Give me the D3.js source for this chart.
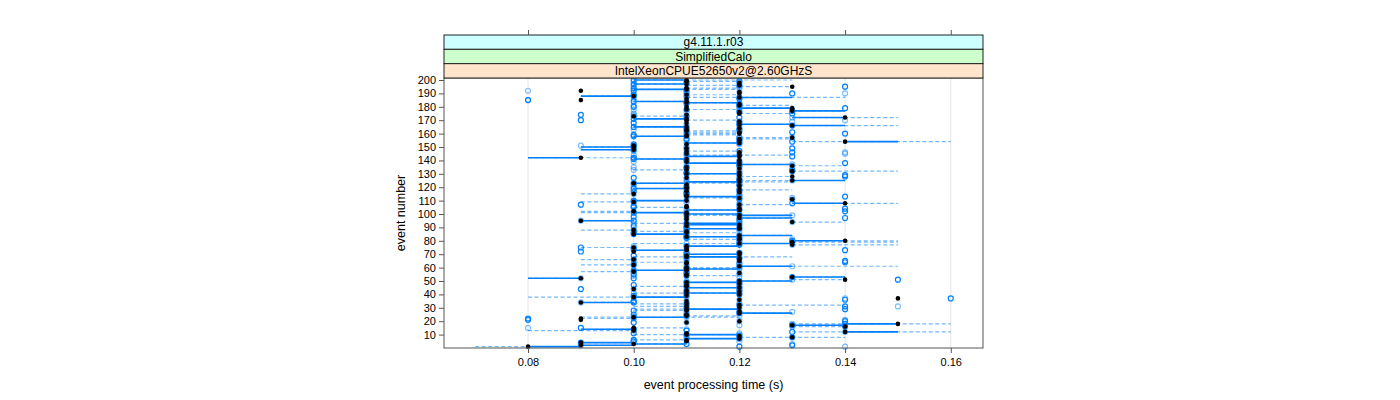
<!DOCTYPE html>
<html><head><meta charset="utf-8">
<script src="https://cdn.jsdelivr.net/npm/d3@7"></script>
<style>body{margin:0;background:#fff}svg{display:block}text{font-family:"Liberation Sans",Arial,Helvetica,sans-serif}</style>
</head><body><svg id="c" width="1400" height="400"></svg>
<script>
// ---- data (times in 1/100 s, events 1..200) ----
const stripLabels = ["g4.11.1.r03", "SimplifiedCalo", "IntelXeonCPUE52650v2@2.60GHzS"];
const xTickValues = [0.08, 0.10, 0.12, 0.14, 0.16];
const yTickValues = [10,20,30,40,50,60,70,80,90,100,110,120,130,140,150,160,170,180,190,200];
const medianCs = [
 8,9,10,9,11,11,12,13,12,11, 11,14,10,10,10,14,13,15,11,12, 9,9,10,11,11,12,12,11,11,12, 11,12,11,9,11,12,15,10,11,12,
 11,12,11,10,12,11,11,12,11,12, 14,9,13,11,11,12,10,11,11,11, 12,10,11,11,12,10,12,11,11,12, 12,10,11,11,10,11,13,12,13,14,
 12,12,11,12,10,11,11,10,12,12, 11,12,11,13,9,11,12,11,12,11, 11,10,12,12,11,11,12,14,10,11, 13,12,11,11,10,12,11,12,11,11,
 12,11,10,12,13,12,11,13,12,11, 12,13,11,12,11,13,12,12,11,12, 11,9,12,12,11,12,11,10,11,10, 10,11,12,14,12,12,13,11,11,12,
 12,11,11,12,11,13,12,11,12,11, 11,14,10,11,12,12,13,11,13,11, 12,12,11,11,9,11,12,10,11,12, 12,9,11,11,13,12,11,12,11,11];
const solidToCs = [
 9,10,11,10,11,11,11,13,12,12, 11,15,10,9,10,14,14,14,11,12, 9,9,11,11,11,13,12,11,12,12, 11,12,11,10,11,12,15,11,11,12,
 12,12,11,10,11,11,11,12,12,13, 14,8,14,11,11,12,10,10,12,11, 13,10,11,11,12,10,12,12,11,11, 12,10,10,11,10,12,13,13,13,13,
 12,12,12,13,11,11,11,10,11,12, 11,11,12,13,10,11,13,11,13,12, 10,10,11,12,11,11,12,13,10,10, 13,12,12,11,10,12,11,12,10,11,
 12,11,11,11,14,12,11,13,12,12, 12,13,11,12,11,13,13,11,11,12, 10,8,11,12,11,12,11,9,11,9, 10,11,11,15,12,12,13,10,11,12,
 12,11,11,12,10,14,13,11,12,11, 10,13,10,11,12,12,14,11,12,11, 12,12,12,10,9,11,13,9,11,12, 12,9,10,11,13,12,10,12,11,10];
const dashLoCs = [
 7,9,10,9,11,10,11,12,12,10, 11,13,8,9,10,13,13,13,11,12, 9,9,9,11,11,12,12,10,10,12, 10,12,10,9,11,12,15,8,11,12,
 10,12,11,10,11,10,11,12,11,12, 13,8,13,11,11,12,9,10,11,11, 12,9,11,10,12,9,12,10,11,11, 12,10,10,11,9,11,13,10,13,13,
 11,12,11,12,10,11,10,9,11,12, 11,11,10,13,9,11,12,11,11,11, 9,9,11,12,10,11,12,13,9,10, 13,11,11,11,9,12,11,12,10,11,
 12,11,10,11,12,12,11,12,12,11, 12,13,10,12,11,13,12,11,11,12, 10,8,11,11,11,12,11,9,11,9, 10,11,11,13,12,12,12,10,11,11,
 11,11,11,12,10,13,12,11,12,11, 10,13,10,11,12,12,13,11,12,11, 12,12,11,10,9,11,11,9,11,12, 12,9,10,11,12,11,10,12,11,10];
const dashHiCs = [
 9,10,11,10,11,11,12,14,12,12, 11,16,10,10,11,14,14,16,11,12, 9,10,12,12,11,13,12,11,12,12, 11,14,11,10,11,12,15,11,11,12,
 12,12,11,10,12,11,11,12,12,13, 14,9,14,12,11,12,10,11,12,12, 15,10,11,11,12,10,12,13,11,12, 12,10,11,11,10,12,15,13,15,15,
 12,12,12,13,11,12,11,10,12,12, 11,12,12,14,10,11,13,11,13,12, 11,10,12,12,11,11,13,15,10,11, 13,12,12,11,10,12,11,13,11,11,
 12,11,12,13,14,12,11,13,12,12, 12,15,11,12,11,14,13,12,11,12, 11,10,12,13,11,12,12,10,11,10, 10,11,12,16,12,13,13,11,12,12,
 12,12,11,12,11,15,13,11,12,12, 11,15,11,11,13,12,14,12,13,11, 13,12,12,11,9,11,14,10,12,12, 12,9,12,12,13,12,11,12,12,13];
const runACs = [
 12,13,11,9,10,10,12,13,12,11, 10,13,11,10,9,14,13,14,10,14, 8,8,10,11,10,12,12,10,14,11, 14,12,11,10,10,14,16,10,10,12,
 11,11,12,9,12,11,10,12,11,12, 15,10,13,11,10,11,10,10,11,11, 12,10,12,14,14,10,12,11,10,11, 12,9,14,10,9,11,12,12,13,13,
 12,11,11,12,10,10,11,10,12,11, 10,12,11,12,10,12,14,10,12,11, 10,14,12,14,10,10,9,13,10,10, 12,12,14,12,11,11,10,12,10,11,
 12,12,10,12,12,12,10,14,14,11, 11,13,13,11,11,12,12,14,12,11, 10,10,13,12,11,13,12,10,13,10, 10,10,12,13,12,11,12,10,10,14,
 13,11,12,11,10,13,12,10,12,9, 10,12,11,9,13,12,13,11,14,10, 12,12,11,10,8,12,12,10,10,13, 11,10,11,10,14,12,10,11,12,10];
const runBCs = [
 14,9,13,10,12,11,11,12,11,12, 12,14,10,11,8,13,12,13,11,12, 14,10,11,12,11,11,13,11,11,12, 15,11,12,9,11,12,14,11,11,11,
 10,12,11,10,11,12,11,11,12,11, 13,9,12,10,12,12,11,11,12,12, 13,11,10,11,12,11,11,12,11,12, 11,11,10,11,10,10,13,11,12,12,
 13,12,12,11,11,11,12,11,11,12, 11,11,10,13,9,11,12,11,13,12, 11,10,11,12,11,12,12,12,11,11, 13,13,11,11,10,12,12,11,11,10,
 11,10,11,11,13,11,11,12,12,12, 12,12,10,12,10,13,13,11,10,12, 11,10,11,10,14,14,10,11,11,11, 9,12,11,12,11,12,13,11,11,11,
 12,12,10,12,11,12,11,12,13,14, 11,13,10,10,10,11,12,10,12,12, 10,11,12,11,8,10,11,11,11,14, 12,8,10,12,12,10,11,12,10,12];
const events = medianCs.map((_, i) => i + 1);

// ---- layout ----
const svg = d3.select("#c");
const L = 444, R = 983, T = 78, B = 348;
const x = d3.scaleLinear().domain([0.0641, 0.1661]).range([L, R]);
const y = d3.scaleLinear().domain([0, 201.5]).range([B, T]);
const cs = v => v / 100;
const blue = "#0080ff";

// grid lines
svg.append("g").selectAll("line").data(xTickValues).join("line")
  .attr("x1", d => x(d)).attr("x2", d => x(d)).attr("y1", T).attr("y2", B)
  .attr("stroke", "#e6e6e6").attr("stroke-width", 1);

const plot = svg.append("g");
// dashed ranges
plot.append("g").selectAll("line").data(events.filter((e, i) => dashLoCs[i] !== dashHiCs[i])).join("line")
  .attr("x1", e => x(cs(dashLoCs[e-1]))).attr("x2", e => x(cs(dashHiCs[e-1])))
  .attr("y1", e => y(e)).attr("y2", e => y(e))
  .attr("stroke", blue).attr("stroke-opacity", 0.55).attr("stroke-width", 1.2)
  .attr("stroke-dasharray", "4,2.5");
// solid segments
plot.append("g").selectAll("line").data(events.filter((e, i) => medianCs[i] !== solidToCs[i])).join("line")
  .attr("x1", e => x(cs(medianCs[e-1]))).attr("x2", e => x(cs(solidToCs[e-1])))
  .attr("y1", e => y(e)).attr("y2", e => y(e))
  .attr("stroke", blue).attr("stroke-width", 1.6);
// open circles (two runs)
plot.append("g").selectAll("circle").data(events).join("circle")
  .attr("cx", e => x(cs(runBCs[e-1]))).attr("cy", e => y(e)).attr("r", 2.5)
  .attr("fill", "none").attr("stroke", blue).attr("stroke-opacity", 0.5).attr("stroke-width", 1.2);
plot.append("g").selectAll("circle").data(events).join("circle")
  .attr("cx", e => x(cs(runACs[e-1]))).attr("cy", e => y(e)).attr("r", 2.5)
  .attr("fill", "none").attr("stroke", blue).attr("stroke-width", 1.2);
// black medians
plot.append("g").selectAll("circle").data(events).join("circle")
  .attr("cx", e => x(cs(medianCs[e-1]))).attr("cy", e => y(e)).attr("r", 2.3)
  .attr("fill", "#000");

// panel border
svg.append("rect").attr("x", L).attr("y", T).attr("width", R - L).attr("height", B - T)
  .attr("fill", "none").attr("stroke", "#555").attr("stroke-width", 1);

// strips
const stripColors = ["#ccffff", "#ccffcc", "#ffe5cc"];
const stripTop = 35, stripH = (T - stripTop) / 3;
stripLabels.forEach((s, i) => {
  svg.append("rect").attr("x", L).attr("y", stripTop + i * stripH).attr("width", R - L).attr("height", stripH)
    .attr("fill", stripColors[i]).attr("stroke", "#222").attr("stroke-width", 1);
  svg.append("text").attr("x", (L + R) / 2).attr("y", stripTop + i * stripH + stripH / 2 + 4.3)
    .attr("text-anchor", "middle").attr("font-size", 12).attr("fill", "#000").text(s);
});

// axes
const axB = svg.append("g").attr("transform", `translate(0,${B})`)
  .call(d3.axisBottom(x).tickValues(xTickValues).tickFormat(d3.format(".2f")).tickSize(5).tickPadding(5));
const axT = svg.append("g").attr("transform", `translate(0,${stripTop})`)
  .call(d3.axisTop(x).tickValues(xTickValues).tickFormat("").tickSize(5));
const axL = svg.append("g").attr("transform", `translate(${L},0)`)
  .call(d3.axisLeft(y).tickValues(yTickValues).tickSize(5).tickPadding(3));
[axB, axT, axL].forEach(g => {
  g.select(".domain").remove();
  g.selectAll("line").attr("stroke", "#555");
  g.selectAll("text").attr("font-size", 11).attr("fill", "#000")
    .style("font-family", '"Liberation Sans",Arial,sans-serif');
});

// titles
svg.append("text").attr("x", (L + R) / 2).attr("y", 389).attr("text-anchor", "middle")
  .attr("font-size", 12.5).text("event processing time (s)");
svg.append("text").attr("transform", `translate(405,${(T + B) / 2}) rotate(-90)`).attr("text-anchor", "middle")
  .attr("font-size", 12.5).text("event number");
</script></body></html>
